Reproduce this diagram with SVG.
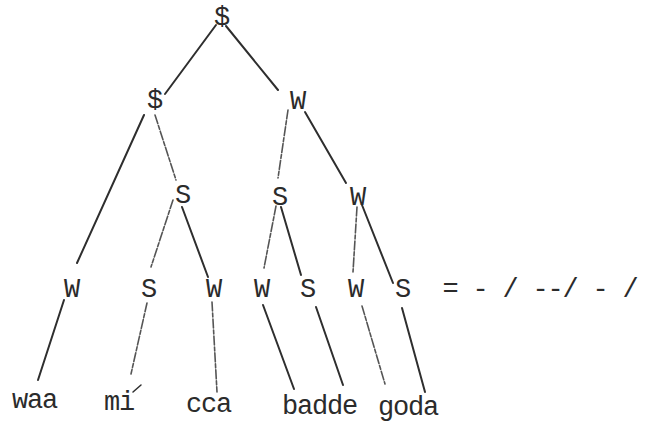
<svg xmlns="http://www.w3.org/2000/svg" width="648" height="426" viewBox="0 0 648 426">
<style>
  .t { font-family: "Liberation Mono", "DejaVu Sans Mono", monospace; font-size: 27px; fill: #2b2b2b; letter-spacing: -1.2px; }
  .n { text-anchor: middle; letter-spacing: 0; }
  .c line, .c path { stroke: #2e2e2e; stroke-width: 2; stroke-linecap: round; fill: none; }
  .c .f { stroke: #555; stroke-width: 1.6; stroke-dasharray: 9 2 4 2; }
</style>
<rect width="648" height="426" fill="#ffffff"/>
<g id="connectors" class="c">
  <line x1="216" y1="25" x2="165" y2="94"/>
  <line x1="226" y1="26" x2="278" y2="90"/>
  <line x1="144" y1="115" x2="77" y2="263"/>
  <line class="f" x1="155" y1="115" x2="176" y2="180"/>
  <line class="f" x1="288" y1="110" x2="278" y2="178"/>
  <line x1="305" y1="112" x2="346" y2="183"/>
  <line class="f" x1="173" y1="200" x2="151" y2="267"/>
  <line x1="182" y1="207" x2="208" y2="277"/>
  <line class="f" x1="276" y1="206" x2="264" y2="268"/>
  <line x1="281" y1="207" x2="301" y2="275"/>
  <line class="f" x1="357" y1="207" x2="353" y2="272"/>
  <line x1="362" y1="205" x2="393" y2="283"/>
  <line x1="64" y1="300" x2="38" y2="380"/>
  <line class="f" x1="147" y1="303" x2="131" y2="374"/>
  <line class="f" x1="212" y1="302" x2="217" y2="392"/>
  <line x1="263" y1="305" x2="294" y2="389"/>
  <line x1="316" y1="307" x2="343" y2="385"/>
  <line class="f" x1="362" y1="306" x2="385" y2="384"/>
  <line x1="402" y1="308" x2="425" y2="392"/>
  <path d="M133 392 L141 385" style="stroke-width:1.5"/>
</g>
<g id="n-root"><text class="t n" x="222" y="25">$</text></g>
<g id="n-l1-left"><text class="t n" x="155" y="108">$</text></g>
<g id="n-l1-right"><text class="t n" x="298" y="109">W</text></g>
<g id="n-l2-s1"><text class="t n" x="183" y="203">S</text></g>
<g id="n-l2-s2"><text class="t n" x="280" y="205">S</text></g>
<g id="n-l2-w"><text class="t n" x="358" y="205">W</text></g>
<g id="n-l3-1"><text class="t n" x="72" y="297">W</text></g>
<g id="n-l3-2"><text class="t n" x="149" y="297">S</text></g>
<g id="n-l3-3"><text class="t n" x="214" y="297">W</text></g>
<g id="n-l3-4"><text class="t n" x="262" y="297">W</text></g>
<g id="n-l3-5"><text class="t n" x="308" y="297">S</text></g>
<g id="n-l3-6"><text class="t n" x="356" y="297">W</text></g>
<g id="n-l3-7"><text class="t n" x="403" y="297">S</text></g>
<g id="pattern"><text class="t" x="442.5" y="297">= - / --/ - /</text></g>
<g id="w-waa"><text class="t" x="12" y="408">waa</text></g>
<g id="w-mi"><text class="t" x="104" y="410">mi</text></g>
<g id="w-cca"><text class="t" x="186" y="412">cca</text></g>
<g id="w-badde"><text class="t" x="282" y="414">badde</text></g>
<g id="w-goda"><text class="t" x="378" y="415">goda</text></g>
</svg>
